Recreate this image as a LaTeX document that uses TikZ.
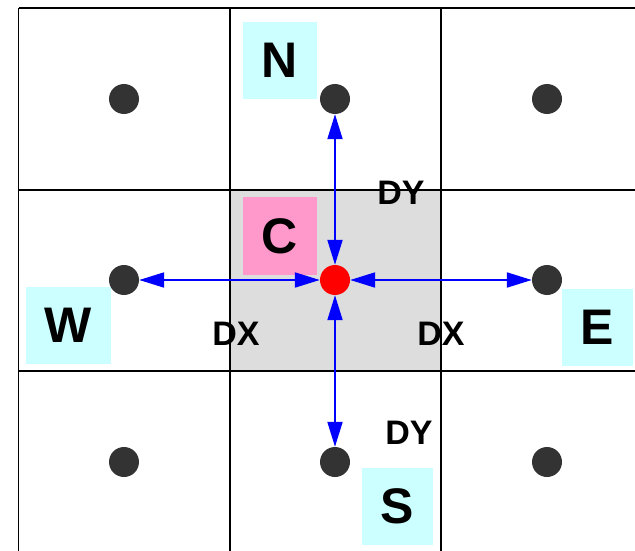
\documentclass[tikz,border=0pt]{standalone}
\usepackage{fontspec}
\setmainfont{Liberation Sans}
\usetikzlibrary{arrows.meta}
\definecolor{dotgray}{HTML}{333333}
\definecolor{cellgray}{HTML}{DDDDDD}
\definecolor{labcyan}{HTML}{CCFFFF}
\definecolor{labpink}{HTML}{FF99CC}
\tikzset{
  gridline/.style={line width=1.6pt, black},
  dotnode/.style={circle, fill=dotgray, minimum size=30pt, inner sep=0pt},
  centernode/.style={circle, fill=red, minimum size=30pt, inner sep=0pt},
  labbox/.style={fill=labcyan, inner sep=0pt, font=\fontsize{50}{50}\selectfont\bfseries},
  dlabel/.style={inner sep=0pt, font=\fontsize{34}{34}\selectfont\bfseries},
  link/.style={blue, line width=2pt, {Triangle[length=25pt,width=15pt]}-{Triangle[length=25pt,width=15pt]}}
}
\begin{document}
\begin{tikzpicture}[x=1pt, y=-1pt]
\useasboundingbox (0,0) rectangle (635,551);
\fill[white] (0,0) rectangle (635,551);
% shaded centre cell
\fill[cellgray] (230,190) rectangle (441,371);
% grid
\draw[gridline] (18.5,8) -- (635,8);
\draw[gridline] (18.5,190) -- (635,190);
\draw[gridline] (18.5,371) -- (635,371);
\draw[gridline] (18.5,8) -- (18.5,551);
\draw[gridline] (230,8) -- (230,551);
\draw[gridline] (441,8) -- (441,551);
% label boxes
\node[labbox, minimum width=74pt, minimum height=77pt] (lN) at (280,60.5) {N};
\node[labbox, fill=labpink, minimum width=74pt, minimum height=78pt] (lC) at (280,236) {C};
\node[labbox, minimum width=85pt, minimum height=77pt] (lW) at (68.5,325.5) {W};
\node[labbox, minimum width=71pt, minimum height=77pt] (lE) at (597.5,327.5) {E};
\node[labbox, minimum width=71pt, minimum height=77pt] (lS) at (397.5,506.5) {S};
% distance labels
\node[dlabel] (dy1) at (401,193) {DY};
\node[dlabel] (dx1) at (236,334) {DX};
\node[dlabel] (dx2) at (441,334) {DX};
\node[dlabel] (dy2) at (409,433) {DY};
% dots
\node[dotnode] (nw) at (124,99) {};
\node[dotnode] (n) at (335,99) {};
\node[dotnode] (ne) at (547,99) {};
\node[dotnode] (w) at (124,280) {};
\node[centernode] (c) at (335,280) {};
\node[dotnode] (e) at (547,280) {};
\node[dotnode] (sw) at (124,462) {};
\node[dotnode] (s) at (335,462) {};
\node[dotnode] (se) at (547,462) {};
% arrows
\draw[link] (w) -- (c);
\draw[link] (c) -- (e);
\draw[link] (n) -- (c);
\draw[link] (c) -- (s);
\end{tikzpicture}
\end{document}
